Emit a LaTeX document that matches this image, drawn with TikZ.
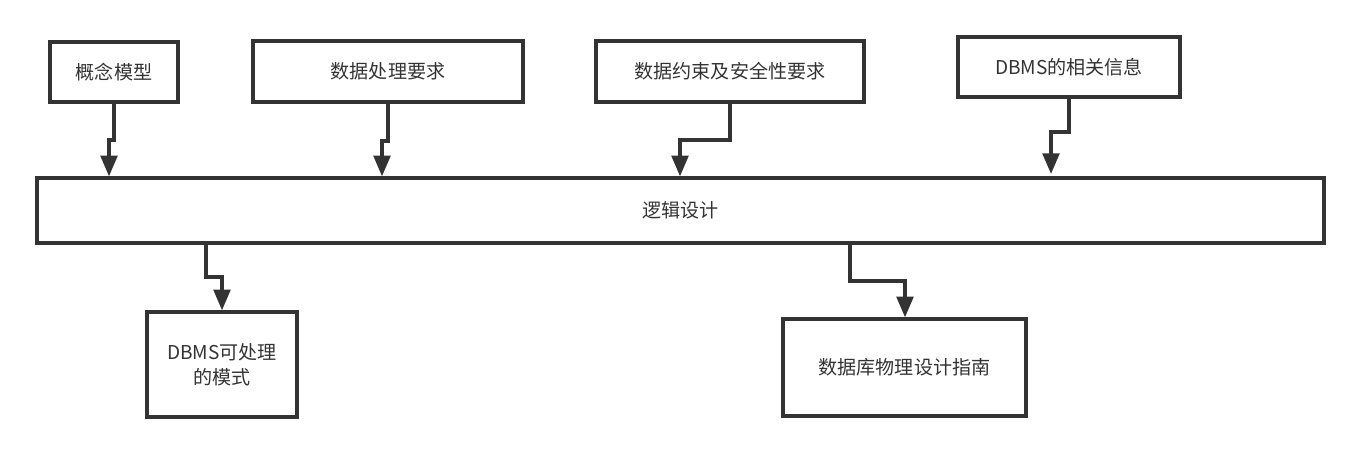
\documentclass[tikz,border=0pt]{standalone}
\usepackage{fontspec}
\setmainfont{Noto Sans CJK SC}
\usetikzlibrary{arrows.meta}
\definecolor{linegray}{HTML}{333333}
\begin{document}
\begin{tikzpicture}[x=0.75pt,y=-0.75pt,
  box/.style={draw=linegray, line width=2.5pt, inner sep=0pt, text=linegray, align=center,
    font=\fontsize{14.3}{19}\selectfont},
  arr/.style={draw=linegray, line width=2.5pt, -{Triangle[length=15.5pt,width=12.5pt]}}]
\useasboundingbox (0,0) rectangle (1362,455);
\node[box, minimum width=128*0.75pt, minimum height=60*0.75pt] (model) at (114,72) {概念模型};
\node[box, minimum width=270*0.75pt, minimum height=61*0.75pt] (proc) at (388,71.5) {数据处理要求};
\node[box, minimum width=268*0.75pt, minimum height=61*0.75pt] (cons) at (730,71.5) {数据约束及安全性要求};
\node[box, minimum width=222*0.75pt, minimum height=60*0.75pt] (info) at (1069,67) {DBMS的相关信息};
\node[box, minimum width=1287*0.75pt, minimum height=65*0.75pt] (logic) at (680.5,210.5) {逻辑设计};
\node[box, minimum width=150*0.75pt, minimum height=105*0.75pt] (schema) at (222,364.5) {DBMS可处理\\的模式};
\node[box, minimum width=243*0.75pt, minimum height=97*0.75pt] (guide) at (904.5,367.5) {数据库物理设计指南};

\draw[arr] (model.south) |- (109,140) -- (logic.north -| 109,0);
\draw[arr] (proc.south) |- (382,141) -- (logic.north -| 382,0);
\draw[arr] (cons.south) |- (680,140) -- (logic.north -| 680,0);
\draw[arr] (info.south) |- (1051,132) -- (1051,174);
\draw[arr] (logic.south -| 206,0) |- (222,277) -- (schema.north);
\draw[arr] (logic.south -| 850,0) |- (905,281) -- (guide.north -| 905,0);
\end{tikzpicture}
\end{document}
